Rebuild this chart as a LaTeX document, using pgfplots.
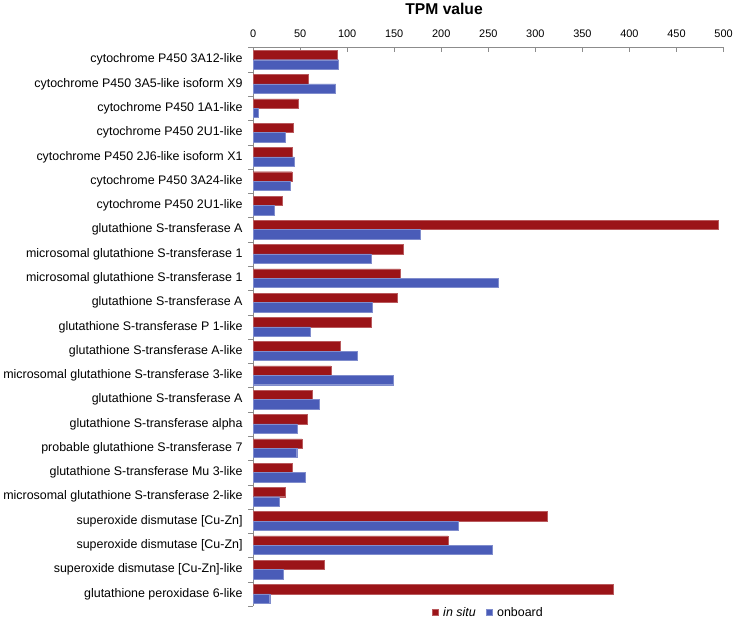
\documentclass[border=0pt]{standalone}
\usepackage{pgfplots}
\pgfplotsset{compat=1.18}
\usepackage{fontspec}
\setmainfont{Liberation Sans}
\definecolor{insitu}{RGB}{155,20,24}
\definecolor{onboard}{RGB}{74,92,184}
\definecolor{axgray}{RGB}{140,140,140}
\begin{document}
\begin{tikzpicture}
\begin{axis}[
  scale only axis,
  width=471bp, height=559bp,
  xmin=0, xmax=500,
  ymin=-0.5, ymax=22.5,
  y dir=reverse,
  axis x line*=top,
  axis y line*=left,
  axis line style={draw=axgray},
  xtick={0,50,...,500},
  xticklabel style={font=\fontsize{11}{12}\selectfont, yshift=2bp},
  /pgf/number format/assume math mode=true,
  xtick style={draw=axgray, yshift=-4bp},
  major tick length=4bp,
  ytick={0,...,22},
  ytick style={draw=none},
  minor ytick={-0.5,0.5,...,22.5},
  minor tick length=5bp,
  minor y tick style={draw=axgray},
  tick align=outside,
  yticklabel style={font=\fontsize{12.5}{14}\selectfont, xshift=-3bp},
  yticklabels={
    cytochrome P450 3A12-like,
    cytochrome P450 3A5-like isoform X9,
    cytochrome P450 1A1-like,
    cytochrome P450 2U1-like,
    cytochrome P450 2J6-like isoform X1,
    cytochrome P450 3A24-like,
    cytochrome P450 2U1-like,
    glutathione S-transferase A,
    microsomal glutathione S-transferase 1,
    microsomal glutathione S-transferase 1,
    glutathione S-transferase A,
    glutathione S-transferase P 1-like,
    glutathione S-transferase A-like,
    microsomal glutathione S-transferase 3-like,
    glutathione S-transferase A,
    glutathione S-transferase alpha,
    probable glutathione S-transferase 7,
    glutathione S-transferase Mu 3-like,
    microsomal glutathione S-transferase 2-like,
    superoxide dismutase [Cu-Zn],
    superoxide dismutase [Cu-Zn],
    superoxide dismutase [Cu-Zn]-like,
    glutathione peroxidase 6-like},
  xbar,
  bar width=9.4bp,
  title={\textbf{TPM value}},
  title style={font=\fontsize{15.7}{18}\selectfont, at={(0.406,1)}, anchor=base, yshift=27bp},
  legend style={at={(0.5,0)}, anchor=north, draw=none, legend columns=2,
    font=\fontsize{12.5}{14}\selectfont, yshift=1bp, inner sep=0pt,
    /tikz/every odd column/.append style={column sep=3bp},
    /tikz/every even column/.append style={column sep=8bp}},
  legend image code/.code={\fill[#1] (0bp,-3bp) rectangle (6bp,3bp);},
]
\addplot[fill=insitu, draw=insitu!70!white, bar shift=4.7bp] coordinates {
(89.2,0) (58.8,1) (48.5,2) (42.5,3) (41.4,4) (41.4,5) (30.8,6) (494.7,7)
(159.7,8) (156,9) (153.3,10) (125.3,11) (92.4,12) (82.8,13) (63,14)
(57.3,15) (52,16) (41.4,17) (34,18) (313,19) (207,20) (75.4,21) (382.6,22)};
\addlegendentry{\textit{in situ}}
\addplot[fill=onboard, draw=onboard!70!white, bar shift=-4.7bp] coordinates {
(91,0) (87.8,1) (5.7,2) (34,3) (43.5,4) (39,5) (22.3,6) (177.3,7)
(125.3,8) (261,9) (126.7,10) (60.5,11) (111,12) (148.6,13) (70.5,14)
(46.7,15) (46.4,16) (55.6,17) (28.3,18) (218,19) (253.7,20) (31.8,21) (17.7,22)};
\addlegendentry{onboard}
\end{axis}
\end{tikzpicture}
\end{document}
